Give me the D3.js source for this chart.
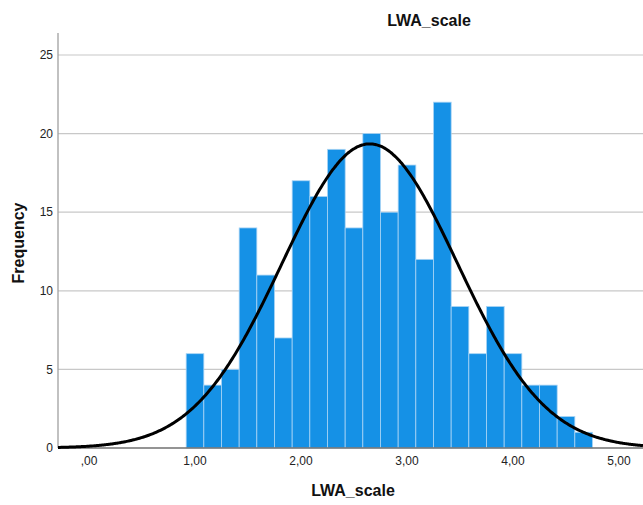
<!DOCTYPE html>
<html>
<head>
<meta charset="utf-8">
<script src="https://cdn.jsdelivr.net/npm/d3@7"></script>
<style>
  html, body { margin: 0; padding: 0; background: #fff; }
  svg { display: block; font-family: "Liberation Sans", Arial, sans-serif; }
</style>
</head>
<body>
<svg id="chart" width="643" height="505"></svg>
<script>
// ---- data ----
const binStart = 1;            // centre of first bin
const binWidth = 1 / 6;
const counts = [6, 4, 5, 14, 11, 7, 17, 16, 19, 14, 20, 15, 18, 12, 22, 9, 6, 9, 6, 4, 4, 2, 1];
const xTicks = [0, 1, 2, 3, 4, 5];
const xTickLabels = [",00", "1,00", "2,00", "3,00", "4,00", "5,00"];
const yTicks = [0, 5, 10, 15, 20, 25];
const chartTitle = "LWA_scale";
const xTitle = "LWA_scale";
const yTitle = "Frequency";

// ---- derived stats for fitted normal curve ----
const centers = counts.map((c, i) => binStart + i * binWidth);
const N = d3.sum(counts);
const mean = d3.sum(counts.map((c, i) => c * centers[i])) / N;
const variance = d3.sum(counts.map((c, i) => c * (centers[i] - mean) ** 2)) / (N - 1);
const sd = Math.sqrt(variance);

// ---- layout ----
const svg = d3.select("#chart");
const plotL = 58, plotR = 643, plotT = 33, plotB = 448;
const pxPerUnit = 106, xZeroPx = 89;
const x = d3.scaleLinear()
  .domain([(plotL - xZeroPx) / pxPerUnit, (plotR - xZeroPx) / pxPerUnit])
  .range([plotL, plotR]);
const y = d3.scaleLinear().domain([0, 25]).range([plotB, 55]);

// gridlines
svg.append("g")
  .selectAll("line")
  .data(yTicks.filter(d => d > 0))
  .join("line")
  .attr("x1", plotL).attr("x2", plotR)
  .attr("y1", d => y(d)).attr("y2", d => y(d))
  .attr("stroke", "#c8c8c8").attr("stroke-width", 1.2);

// bars
svg.append("g")
  .selectAll("rect")
  .data(counts)
  .join("rect")
  .attr("x", (d, i) => x(centers[i] - binWidth / 2))
  .attr("width", (d, i) => x(centers[i] + binWidth / 2) - x(centers[i] - binWidth / 2))
  .attr("y", d => y(d))
  .attr("height", d => y(0) - y(d))
  .attr("fill", "#1591e6")
  .attr("stroke", "#a9d4f4")
  .attr("stroke-width", 0.8);

// y axis line
svg.append("line")
  .attr("x1", plotL).attr("x2", plotL)
  .attr("y1", plotT).attr("y2", plotB)
  .attr("stroke", "#a0a0a0").attr("stroke-width", 1.3);

// x axis line
svg.append("line")
  .attr("x1", plotL).attr("x2", plotR)
  .attr("y1", plotB).attr("y2", plotB)
  .attr("stroke", "#707070").attr("stroke-width", 1.3);

// normal curve
const curvePts = d3.range(0, 401).map(k => {
  const xv = x.domain()[0] + (x.domain()[1] - x.domain()[0]) * k / 400;
  const pdf = Math.exp(-0.5 * ((xv - mean) / sd) ** 2) / (sd * Math.sqrt(2 * Math.PI));
  return [xv, N * binWidth * pdf];
});
svg.append("path")
  .datum(curvePts)
  .attr("d", d3.line().x(d => x(d[0])).y(d => y(d[1])).curve(d3.curveBasis))
  .attr("fill", "none")
  .attr("stroke", "#000")
  .attr("stroke-width", 3);

// y tick labels
svg.append("g")
  .selectAll("text")
  .data(yTicks)
  .join("text")
  .attr("x", 53)
  .attr("y", d => y(d))
  .attr("dy", "0.35em")
  .attr("text-anchor", "end")
  .attr("font-size", 12)
  .attr("fill", "#222")
  .text(d => d);

// x tick labels
svg.append("g")
  .selectAll("text")
  .data(xTicks)
  .join("text")
  .attr("x", d => x(d))
  .attr("y", 465)
  .attr("text-anchor", "middle")
  .attr("font-size", 12)
  .attr("fill", "#222")
  .text((d, i) => xTickLabels[i]);

// titles
svg.append("text")
  .attr("x", 429).attr("y", 26)
  .attr("text-anchor", "middle")
  .attr("font-size", 16).attr("font-weight", "bold")
  .attr("fill", "#111")
  .text(chartTitle);

svg.append("text")
  .attr("x", 353).attr("y", 496)
  .attr("text-anchor", "middle")
  .attr("font-size", 16).attr("font-weight", "bold")
  .attr("fill", "#111")
  .text(xTitle);

svg.append("text")
  .attr("transform", "translate(24,243) rotate(-90)")
  .attr("text-anchor", "middle")
  .attr("font-size", 16).attr("font-weight", "bold")
  .attr("fill", "#111")
  .text(yTitle);
</script>
</body>
</html>
